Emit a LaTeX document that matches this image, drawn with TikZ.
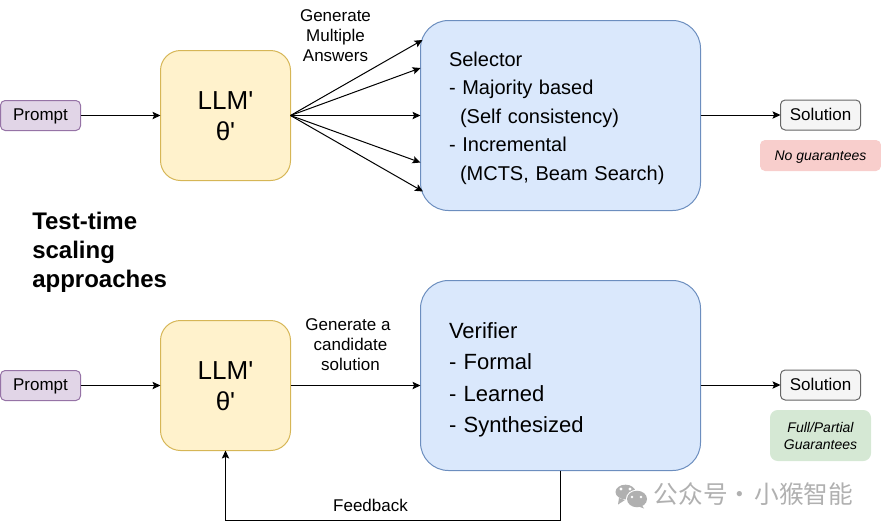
\documentclass[tikz,border=0pt]{standalone}
\usepackage{fontspec}
\setmainfont{Liberation Sans}
\newfontfamily\cjk{Noto Sans CJK SC}
\usetikzlibrary{arrows.meta}

\tikzset{
	box/.style={draw, line width=0.75pt, outer sep=0pt, inner sep=0pt, align=center},
	small/.style={font=\fontsize{12.75}{15}\selectfont},
	promptbox/.style={box, small, fill=promptfill, draw=promptline, minimum width=60pt, minimum height=22.5pt, rounded corners=3.5pt, text height=9.9pt, text depth=2.7pt},
	llmbox/.style={box, fill=llmfill, draw=llmline, minimum width=97.5pt, minimum height=97.5pt, rounded corners=15pt, font=\fontsize{19.5}{23.25}\selectfont, text height=38pt, text depth=1pt},
	bigbox/.style={box, fill=bigfill, draw=bigline, minimum width=210pt, minimum height=142.5pt, rounded corners=21pt, align=left, text width=167.25pt},
	solbox/.style={box, small, fill=solfill, draw=solline, minimum width=60pt, minimum height=22.5pt, rounded corners=3.5pt, text height=11.4pt, text depth=2.7pt},
	notebox/.style={box, font=\fontsize{10.5}{12.75}\selectfont\itshape},
	arrow/.style={-{Stealth[length=6pt,width=5.5pt,inset=1.2pt]}, line width=0.75pt},
}
\definecolor{promptfill}{HTML}{E1D5E7}
\definecolor{promptline}{HTML}{9673A6}
\definecolor{llmfill}{HTML}{FFF2CC}
\definecolor{llmline}{HTML}{D6B656}
\definecolor{bigfill}{HTML}{DAE8FC}
\definecolor{bigline}{HTML}{6C8EBF}
\definecolor{solfill}{HTML}{F5F5F5}
\definecolor{solline}{HTML}{666666}
\definecolor{redfill}{HTML}{F8CECC}
\definecolor{greenfill}{HTML}{D5E8D4}
\definecolor{wmgray}{HTML}{B0B0B0}

\begin{document}
\begin{tikzpicture}[x=0.75pt,y=-0.75pt]
	\useasboundingbox (0,0) rectangle (881,529);

	% top row
	\node[promptbox] (promptA) at (40.5,115.5) {Prompt};
	\node[llmbox] (llmA) at (225.5,115.5) {LLM\textquotesingle\\θ\textquotesingle};
	\node[bigbox, font=\fontsize{15}{21.45}\selectfont, text height=10pt, text depth=84pt] (selector) at (560.5,115.5) {Selector\\
		- Majority based\\
		\hspace*{8.25pt}(Self consistency)\\
		- Incremental\\
		\hspace*{8.25pt}(MCTS, Beam Search)};
	\node[solbox] (solA) at (820.5,115) {Solution};
	\node[notebox, fill=redfill, draw=redfill, minimum width=90pt, minimum height=22.5pt, rounded corners=3.5pt, text height=9.5pt, text depth=2.2pt] (noteA) at (820.5,155.5) {No guarantees};

	\coordinate (S1) at (422.5,40);
	\coordinate (S2) at (420.5,68);
	\coordinate (S4) at (420.5,162.5);
	\coordinate (S5) at (423,191.5);

	\draw[arrow] (promptA) -- (llmA);
	\draw[arrow] (llmA.east) -- (S1);
	\draw[arrow] (llmA.east) -- (S2);
	\draw[arrow] (llmA.east) -- (selector.west);
	\draw[arrow] (llmA.east) -- (S4);
	\draw[arrow] (llmA.east) -- (S5);
	\draw[arrow] (selector.east |- solA) -- (solA.west);

	\node[small, align=center] (genA) at (335.5,36) {Generate\\Multiple\\Answers};

	\node[align=left, font=\fontsize{18}{21.75}\selectfont\bfseries, anchor=west, inner sep=0pt] (title) at (32,252.5) {Test-time\\scaling\\approaches};

	% bottom row
	\node[promptbox] (promptB) at (40.5,385.5) {Prompt};
	\node[llmbox] (llmB) at (225.5,385.5) {LLM\textquotesingle\\θ\textquotesingle};
	\node[bigbox, font=\fontsize{16.5}{23.6}\selectfont, text height=10pt, text depth=65.7pt] (verifier) at (560.5,375.5) {Verifier\\
		- Formal\\
		- Learned\\
		- Synthesized};
	\node[solbox] (solB) at (820.5,385) {Solution};
	\node[notebox, fill=greenfill, draw=greenfill, minimum width=75pt, minimum height=37.5pt, rounded corners=5.5pt] (noteB) at (820.5,435.5) {Full/Partial\\Guarantees};

	\draw[arrow] (promptB) -- (llmB);
	\draw[arrow] (llmB.east) -- (llmB.east -| verifier.west);
	\draw[arrow] (verifier.east |- solB) -- (solB.west);
	\draw[arrow] (verifier.south) -- ++(0,50) -| (llmB.south);

	\node[small, align=center] (genB) at (350.5,345) {Generate a\hspace*{3.75pt}\\candidate\\solution};
	\node[small] (feedback) at (370.5,505) {Feedback};

	% watermark
	\fill[wmgray] (625.5,492) ellipse (7.5pt and 5.5pt);
	\fill[wmgray] (619,498) -- (618,504.5) -- (625,500) -- cycle;
	\fill[white] (637,499) ellipse (8.3pt and 7pt);
	\fill[wmgray] (637,499) ellipse (7.5pt and 6.2pt);
	\fill[wmgray] (641,504) -- (644,508.5) -- (636,505.5) -- cycle;
	\fill[white] (621,489) circle (1.2pt) (630,489) circle (1.2pt);
	\fill[white] (632,497) circle (1pt) (641,497) circle (1pt);
	\node[text=wmgray, font=\cjk\fontsize{18.5}{20}\selectfont, anchor=west, inner sep=0pt] (brand) at (653.5,494.5) {公众号\kern-4.5pt{} · \kern-2.25pt{}小猴智能};
\end{tikzpicture}
\end{document}
